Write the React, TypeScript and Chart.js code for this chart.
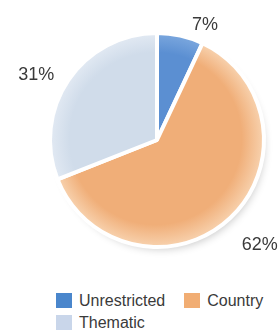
import React, { useEffect, useRef } from "react";
import { Chart, registerables } from "chart.js";

Chart.register(...registerables);

const categories = ["Unrestricted", "Country", "Thematic"];
const shares = [7, 62, 31];
const shareLabels = ["7%", "62%", "31%"];
const sliceColors = ["#5b8fd2", "#f0ae78", "#d0dcea"];
const rimColors = ["#78a5dd", "#f7cfaa", "#e0e8f2"];
const legendColors = ["#4a86cc", "#f1ad73", "#c9d6ea"];
const legendOrder = [0, 1, 2];

const FONT = "'Liberation Sans', Arial, sans-serif";
const TEXT = "#3a3a3a";

// per-slice label placement: angle nudge (deg) and distance beyond the rim (px)
const labelPlacement = [
  { da: 10, dr: 18 },
  { da: -1.2, dr: 40 },
  { da: -6, dr: 30 },
];

const shadowPlugin = {
  id: "pieShadow",
  beforeDatasetsDraw(chart: any) {
    const meta = chart.getDatasetMeta(0);
    const arc = meta.data[0];
    if (!arc) return;
    const { x, y, outerRadius } = arc.getProps(["x", "y", "outerRadius"], true);
    const ctx = chart.ctx;
    ctx.save();
    ctx.beginPath();
    ctx.arc(x, y, outerRadius - 4, 0, Math.PI * 2);
    ctx.fillStyle = "#ffffff";
    ctx.shadowColor = "rgba(0,0,0,0.22)";
    ctx.shadowBlur = 9;
    ctx.shadowOffsetX = 4;
    ctx.shadowOffsetY = 6;
    ctx.fill();
    ctx.restore();
  },
};

const labelPlugin = {
  id: "pctLabels",
  afterDatasetsDraw(chart: any) {
    const meta = chart.getDatasetMeta(0);
    const ctx = chart.ctx;
    ctx.save();
    ctx.font = `18px ${FONT}`;
    ctx.fillStyle = TEXT;
    ctx.textAlign = "center";
    ctx.textBaseline = "middle";
    meta.data.forEach((arc: any, i: number) => {
      const { x, y, startAngle, endAngle, outerRadius } = arc.getProps(
        ["x", "y", "startAngle", "endAngle", "outerRadius"],
        true
      );
      const p = labelPlacement[i];
      const a = (startAngle + endAngle) / 2 + (p.da * Math.PI) / 180;
      const r = outerRadius + p.dr;
      ctx.fillText(shareLabels[i], x + Math.cos(a) * r, y + Math.sin(a) * r);
    });
    ctx.restore();
  },
};

function makeFill(ctx: any) {
  const chart = ctx.chart;
  const area = chart.chartArea;
  const i = ctx.dataIndex;
  if (!area) return sliceColors[i];
  const cx = (area.left + area.right) / 2;
  const cy = (area.top + area.bottom) / 2;
  const r = 105;
  const g = chart.ctx.createRadialGradient(cx - 8, cy - 8, 0, cx, cy, r);
  g.addColorStop(0, sliceColors[i]);
  g.addColorStop(0.82, sliceColors[i]);
  g.addColorStop(1, rimColors[i]);
  return g;
}

export default function App() {
  const ref = useRef<HTMLCanvasElement | null>(null);

  useEffect(() => {
    document.documentElement.style.overflow = "hidden";
    document.body.style.margin = "0";
    if (!ref.current) return;
    const chart = new Chart(ref.current, {
      type: "pie",
      data: {
        labels: categories,
        datasets: [
          {
            data: shares,
            backgroundColor: makeFill as any,
            borderColor: "#ffffff",
            borderWidth: 4,
            hoverOffset: 0,
          },
        ],
      },
      options: {
        animation: false,
        responsive: false,
        radius: 107,
        rotation: 0,
        layout: { padding: { left: 50, right: 16, top: 33, bottom: 41 } },
        plugins: {
          legend: { display: false },
          tooltip: { enabled: false },
        },
        events: [],
      } as any,
      plugins: [shadowPlugin, labelPlugin],
    });
    return () => chart.destroy();
  }, []);

  return (
    <div style={{ width: 280, height: 336, overflow: "hidden" }}>
      <canvas ref={ref} width={280} height={288} style={{ display: "block", width: 280, height: 288 }} />
      <div
        style={{
          marginTop: 5,
          marginLeft: 56,
          width: 230,
          display: "flex",
          flexWrap: "wrap",
          rowGap: 7,
          fontFamily: FONT,
          fontSize: 16,
          color: TEXT,
          lineHeight: "15px",
        }}
      >
        {legendOrder.map((i) => (
          <div key={i} style={{ display: "flex", alignItems: "center", marginRight: 19 }}>
            <span
              style={{
                display: "inline-block",
                width: 16,
                height: 15,
                background: legendColors[i],
                marginRight: 7,
              }}
            />
            <span>{categories[i]}</span>
          </div>
        ))}
      </div>
    </div>
  );
}
